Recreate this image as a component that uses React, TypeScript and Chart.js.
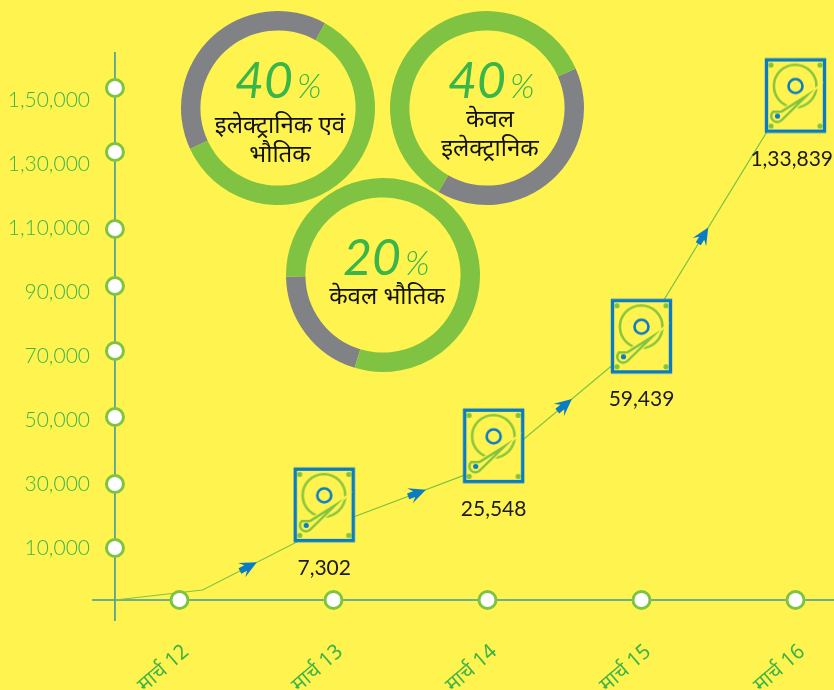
import React, { useEffect, useRef } from "react";
import { Chart, LinearScale, registerables } from "chart.js";

const months = ["मार्च 12", "मार्च 13", "मार्च 14", "मार्च 15", "मार्च 16"];
const monthPositions = [12, 13, 14, 15, 16];
const tickValues = [10000, 30000, 50000, 70000, 90000, 110000, 130000, 150000];
const tickLabels = ["10,000", "30,000", "50,000", "70,000", "90,000", "1,10,000", "1,30,000", "1,50,000"];
const iconPositions = [12.94, 14.04, 15, 16];
const trendPositions = [12.94, 14.04, 14.964, 16];
const storageValues = [7302, 25548, 59439, 133839];
const storageLabels = ["7,302", "25,548", "59,439", "1,33,839"];
const leadInPositions = [11.581, 12.15];
const leadInValues = [-13250, -10400];
const arrowProgress = [0.446, 0.6, 0.55, 0.453];

const shares = [40, 40, 20];
const shareLabels = ["40", "40", "20"];
const captions = [["इलेक्ट्रानिक एवं", "भौतिक"], ["केवल", "इलेक्ट्रानिक"], ["केवल भौतिक"]];

const YELLOW = "#fff44f";
const RING_GREEN = "#80c342";
const RING_GREY = "#808285";
const TEXT_GREEN = "#3fb34a";
const BLUE = "#0a7cc4";
const AXIS_COLOR = "#3f9aa0";
const DIGITS = "Lato, 'Noto Sans', 'Noto Sans Devanagari', sans-serif";

const AXIS_X = 11.581;
const X_MIN = 11.432;
const X_MAX = 16.25;

// Axis whose stops are placed by hand rather than spread evenly over the chart area.
class SteppedScale extends LinearScale {
  static id = "stepped";
  static defaults = LinearScale.defaults;
  getPixelForValue(value: number) {
    const stops: [number, number][] = (this as any).options.stops;
    let i = 0;
    while (i < stops.length - 2 && value > stops[i + 1][0]) i++;
    const [v0, p0] = stops[i];
    const [v1, p1] = stops[i + 1];
    return p0 + ((value - v0) * (p1 - p0)) / (v1 - v0);
  }
}

Chart.register(...registerables, SteppedScale as any);

function driveIcon(): HTMLCanvasElement {
  const c = document.createElement("canvas");
  c.width = 63;
  c.height = 78;
  const g = c.getContext("2d")!;
  g.translate(31.5, 39);
  g.fillStyle = YELLOW;
  g.fillRect(-30, -37, 60, 74);
  g.strokeStyle = BLUE;
  g.lineWidth = 3.4;
  g.strokeRect(-29, -35.7, 58, 71.4);
  g.fillStyle = RING_GREEN;
  for (const [dx, dy] of [[-24.5, -30.5], [24.5, -30.5], [-24.5, 30.5], [24.5, 30.5]]) {
    g.beginPath();
    g.arc(dx, dy, 2.6, 0, Math.PI * 2);
    g.fill();
  }
  g.strokeStyle = "#8cc63f";
  g.lineWidth = 2.6;
  g.beginPath();
  g.arc(-0.3, -9.5, 21.3, 0, Math.PI * 2);
  g.stroke();
  g.strokeStyle = BLUE;
  g.lineWidth = 2.6;
  g.beginPath();
  g.arc(0, -9.5, 7, 0, Math.PI * 2);
  g.stroke();
  // actuator arm: teardrop from the pivot to the tip
  const drawArm = () => {
    g.beginPath();
    g.moveTo(10.7, 0.5);
    g.lineTo(-14, 16);
    g.arc(-18.3, 20.5, 6, -Math.PI * 0.75, Math.PI * 0.25, true);
    g.closePath();
  };
  g.strokeStyle = YELLOW;
  g.lineWidth = 5;
  drawArm();
  g.stroke();
  g.fillStyle = YELLOW;
  drawArm();
  g.fill();
  g.strokeStyle = RING_GREEN;
  g.lineWidth = 2.4;
  drawArm();
  g.stroke();
  g.fillStyle = BLUE;
  g.beginPath();
  g.arc(-18, 20.5, 2.6, 0, Math.PI * 2);
  g.fill();
  return c;
}

const flowMarks = {
  id: "flowMarks",
  afterDatasetsDraw(chart: any) {
    const ctx = chart.ctx;
    const line = chart.getDatasetMeta(2).data;
    ctx.save();
    arrowProgress.forEach((t, i) => {
      const a = line[i + 1];
      const b = line[i + 2];
      const x = a.x + (b.x - a.x) * t;
      const y = a.y + (b.y - a.y) * t;
      ctx.save();
      ctx.translate(x, y);
      ctx.rotate(Math.atan2(b.y - a.y, b.x - a.x));
      ctx.fillStyle = BLUE;
      ctx.beginPath();
      ctx.moveTo(0, 0);
      ctx.lineTo(-17, -8);
      ctx.lineTo(-12.5, -3);
      ctx.lineTo(-19, -3);
      ctx.lineTo(-19, 3);
      ctx.lineTo(-12.5, 3);
      ctx.lineTo(-17, 8);
      ctx.closePath();
      ctx.fill();
      ctx.restore();
    });
    ctx.fillStyle = "#1a1a1a";
    ctx.font = `21px ${DIGITS}`;
    ctx.textAlign = "center";
    ctx.textBaseline = "alphabetic";
    const icons = chart.getDatasetMeta(0).data;
    storageLabels.forEach((label, i) => {
      // keep the widest label inside the right edge of the canvas
      const half = ctx.measureText(label).width / 2;
      ctx.fillText(label, Math.min(icons[i].x, chart.width - 1 - half), icons[i].y + 70);
    });
    ctx.restore();
  },
};

function Donut({ index, left, top, rotation, headX, headY, capX, capY }: any) {
  const ref = useRef<HTMLCanvasElement>(null);
  useEffect(() => {
    const caption = {
      id: "caption",
      afterDraw(chart: any) {
        const ctx = chart.ctx;
        const cx = chart.width / 2;
        const cy = chart.height / 2;
        ctx.save();
        ctx.textBaseline = "alphabetic";
        ctx.fillStyle = "#39b54a";
        ctx.font = `italic 50px ${DIGITS}`;
        ctx.textAlign = "right";
        ctx.fillText(shareLabels[index], cx + headX + 13, cy + headY);
        ctx.font = `italic 300 34px ${DIGITS}`;
        ctx.textAlign = "left";
        ctx.fillText("%", cx + headX + 17, cy + headY);
        ctx.fillStyle = "#111";
        ctx.font = "24px 'Noto Sans Devanagari', 'Noto Sans', sans-serif";
        ctx.textAlign = "center";
        captions[index].forEach((text, i) => ctx.fillText(text, cx + capX + 1, cy + capY + i * 29));
        ctx.restore();
      },
    };
    const chart = new Chart(ref.current!, {
      type: "doughnut",
      data: {
        datasets: [
          {
            data: [shares[index], 100 - shares[index]],
            backgroundColor: [RING_GREY, RING_GREEN],
            borderWidth: 0,
          },
        ],
      },
      options: {
        responsive: false,
        animation: false,
        rotation,
        radius: 97,
        cutout: 80,
        plugins: { legend: { display: false }, tooltip: { enabled: false } },
      },
      plugins: [caption],
    } as any);
    return () => chart.destroy();
  }, []);
  return <canvas ref={ref} width={200} height={200} style={{ position: "absolute", left, top }} />;
}

export default function App() {
  const ref = useRef<HTMLCanvasElement>(null);
  useEffect(() => {
    const chart = new Chart(ref.current!, {
      type: "scatter",
      data: {
        datasets: [
          {
            // drive icons
            yAxisID: "yIcon",
            data: iconPositions.map((x, i) => ({ x, y: storageValues[i] })),
            pointStyle: driveIcon() as any,
            pointRadius: 30,
            showLine: false,
            clip: false,
          },
          {
            // stops on both axes
            yAxisID: "yStops",
            data: [
              ...tickValues.map((y) => ({ x: AXIS_X, y })),
              ...monthPositions.map((x) => ({ x, y: 0 })),
            ],
            pointRadius: 8.5,
            borderWidth: 3,
            backgroundColor: "#fff",
            borderColor: RING_GREEN,
            showLine: false,
            clip: false,
          },
          {
            // storage trend
            yAxisID: "yLine",
            data: [...leadInPositions, ...trendPositions].map((x, i) => ({
              x,
              y: [...leadInValues, ...storageValues][i],
            })),
            showLine: true,
            pointRadius: 0,
            borderColor: RING_GREEN,
            borderWidth: 1.2,
            clip: false,
          },
          {
            // horizontal axis line
            yAxisID: "yStops",
            data: [{ x: X_MIN, y: 0 }, { x: X_MAX, y: 0 }],
            showLine: true,
            pointRadius: 0,
            borderColor: AXIS_COLOR,
            borderWidth: 1.6,
            clip: false,
          },
          {
            // vertical axis line
            yAxisID: "yStops",
            data: [{ x: AXIS_X, y: -6500 }, { x: AXIS_X, y: 161000 }],
            showLine: true,
            pointRadius: 0,
            borderColor: AXIS_COLOR,
            borderWidth: 1.6,
            clip: false,
          },
        ],
      },
      options: {
        responsive: false,
        animation: false,
        layout: { padding: { top: 52, right: 0, left: 0, bottom: 0 } },
        plugins: { legend: { display: false }, tooltip: { enabled: false } },
        scales: {
          x: {
            type: "stepped",
            min: X_MIN,
            max: X_MAX,
            stops: [
              [X_MIN, 92],
              [X_MAX, 834],
            ],
            grid: { display: false, drawTicks: false },
            border: { display: false },
            afterBuildTicks: (axis: any) => {
              axis.ticks = monthPositions.map((value) => ({ value }));
            },
            afterFit: (axis: any) => {
              axis.height = 69;
              axis.paddingLeft = 0;
              axis.paddingRight = 0;
            },
            ticks: {
              autoSkip: false,
              minRotation: 41,
              maxRotation: 41,
              padding: 20,
              labelOffset: 8,
              color: TEXT_GREEN,
              font: { family: "'Noto Sans Devanagari', 'Noto Sans', sans-serif", size: 21 },
              callback: (v: any) => months[monthPositions.indexOf(v)],
            },
          } as any,
          y: {
            type: "stepped",
            min: -6250,
            max: 165000,
            stops: [
              [10000, 548],
              [150000, 100],
            ],
            grid: { display: false, drawTicks: false },
            border: { display: false },
            afterBuildTicks: (axis: any) => {
              axis.ticks = tickValues.map((value) => ({ value }));
            },
            afterFit: (axis: any) => {
              axis.width = 92;
              axis.paddingTop = 0;
              axis.paddingBottom = 0;
            },
            ticks: {
              autoSkip: false,
              padding: 2,
              color: TEXT_GREEN,
              font: { family: DIGITS, size: 21, weight: "300" },
              callback: (v: any) => tickLabels[tickValues.indexOf(v)],
            },
          } as any,
          yStops: {
            type: "stepped",
            display: false,
            min: -6500,
            max: 161000,
            stops: [
              [-6500, 621],
              [0, 600],
              [10000, 548],
              [30000, 484],
              [50000, 417],
              [70000, 351],
              [90000, 286],
              [110000, 229],
              [130000, 152],
              [150000, 88],
              [161000, 52],
            ],
          } as any,
          yLine: { type: "linear", display: false, min: -19257, max: 143314 },
          yIcon: { type: "linear", display: false, min: -28600, max: 147300 },
        },
      },
      plugins: [flowMarks],
    } as any);
    return () => chart.destroy();
  }, []);
  return (
    <div style={{ position: "fixed", left: 0, top: 0, width: 834, height: 690, background: YELLOW, overflow: "hidden" }}>
      <canvas ref={ref} width={834} height={690} style={{ position: "absolute", left: 0, top: 0 }} />
      <Donut index={0} left={178} top={8} rotation={245} headX={2} headY={-10} capX={1} capY={25} />
      <Donut index={1} left={387} top={8} rotation={66} headX={6} headY={-10} capX={2} capY={19} />
      <Donut index={2} left={283} top={175} rotation={197} headX={5} headY={0} capX={3} capY={29} />
    </div>
  );
}
